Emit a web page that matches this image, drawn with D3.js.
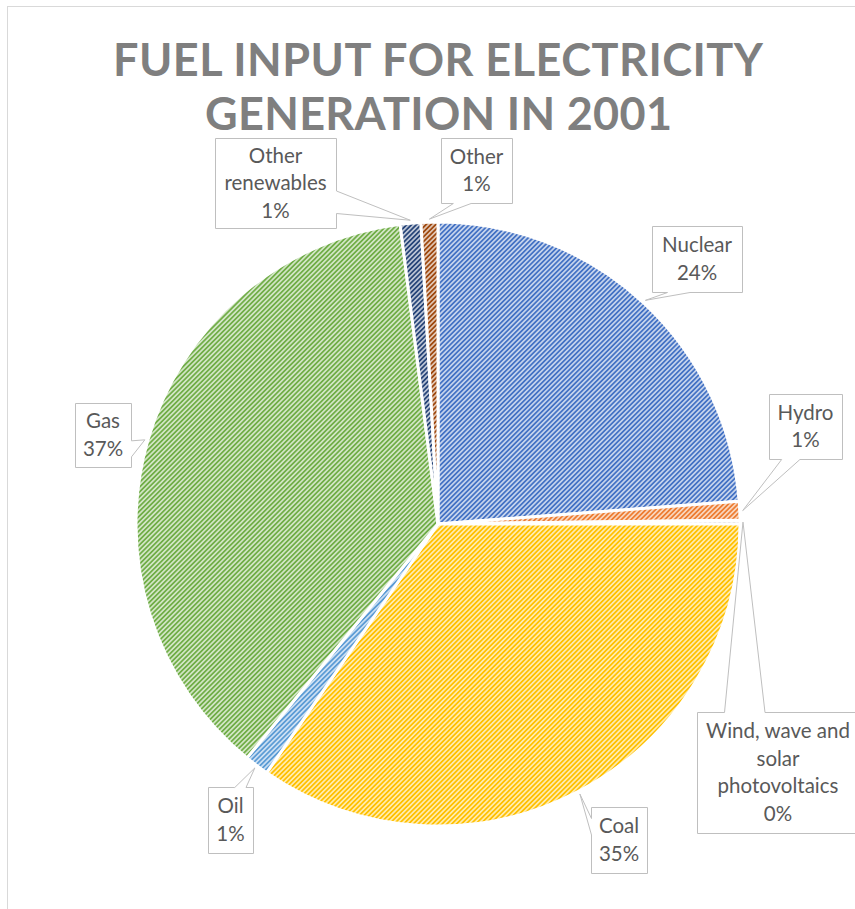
<!DOCTYPE html>
<html>
<head>
<meta charset="utf-8">
<script src="https://cdn.jsdelivr.net/npm/d3@7"></script>
<style>
  html, body { margin: 0; padding: 0; background: #fff; }
  svg { display: block; }
</style>
</head>
<body>
<svg id="chart" width="855" height="909"></svg>
<script>
// Share of fuel input for electricity generation, 2001 (percent)
const categories = ["Nuclear", "Hydro", "Wind, wave and solar photovoltaics", "Coal", "Oil", "Gas", "Other renewables", "Other"];
const shares = [23.8, 1.0, 0.2, 34.6, 1.3, 37.1, 1.1, 0.9];
const sliceColors = ["#4472C4", "#ED7D31", "#A5A5A5", "#FFC000", "#5B9BD5", "#70AD47", "#264478", "#9E480E"];
const titleLines = ["FUEL INPUT FOR ELECTRICITY", "GENERATION IN 2001"];

// How each category name is broken into lines inside its callout
const labelLines = [
  ["Nuclear"], ["Hydro"], ["Wind, wave and", "solar", "photovoltaics"],
  ["Coal"], ["Oil"], ["Gas"], ["Other", "renewables"], ["Other"]
];

// Callout boxes: [x, y, width, height]
const calloutBoxes = [
  [652, 226, 90, 66],
  [769, 394, 73, 65],
  [697, 712, 162, 121],
  [591, 807, 56, 66],
  [208, 787, 45, 66],
  [75, 403, 56, 64],
  [215, 138, 121, 90],
  [441, 138, 71, 65]
];

const svg = d3.select("#chart");
const W = 855, H = 909;
const cx = 438, cy = 524, R = 302;

// chart frame
svg.append("rect")
  .attr("x", 7.5).attr("y", 6.5)
  .attr("width", W + 10).attr("height", H + 10)
  .attr("fill", "#fff").attr("stroke", "#D9D9D9").attr("stroke-width", 1);

// diagonal hatch fills
const defs = svg.append("defs");
sliceColors.forEach((c, i) => {
  const p = defs.append("pattern")
    .attr("id", "hatch" + i)
    .attr("patternUnits", "userSpaceOnUse")
    .attr("width", 3.4).attr("height", 3.4)
    .attr("patternTransform", "rotate(45)");
  p.append("rect").attr("width", 3.4).attr("height", 3.4)
    .attr("fill", d3.interpolateRgb(c, "#fff")(0.68));
  p.append("rect").attr("width", 1.7).attr("height", 3.4).attr("fill", c);
});

// title
const title = svg.append("g").attr("fill", "#7F7F7F")
  .style("font-family", "Lato, 'Open Sans', sans-serif")
  .style("font-weight", 700)
  .style("font-size", "45px");
title.append("text").attr("x", 113).attr("y", 76)
  .attr("textLength", 650).attr("lengthAdjust", "spacing")
  .text(titleLines[0]);
title.append("text").attr("x", 205).attr("y", 130)
  .attr("textLength", 467).attr("lengthAdjust", "spacing")
  .text(titleLines[1]);

// pie
const data = categories.map((name, i) => ({ name, value: shares[i], i }));
const total = d3.sum(shares);
const pie = d3.pie().value(d => d.value).sort(null)
  .startAngle(0).endAngle(2 * Math.PI);
const arcs = pie(data);
const arc = d3.arc().innerRadius(0).outerRadius(R);

const g = svg.append("g").attr("transform", `translate(${cx},${cy})`);
g.selectAll("path.slice")
  .data(arcs)
  .join("path")
  .attr("class", "slice")
  .attr("d", arc)
  .attr("fill", d => `url(#hatch${d.data.i})`)
  .attr("stroke", "#fff")
  .attr("stroke-width", 3)
  .attr("stroke-linejoin", "round");

// callout with a wedge tail pointing at (tx, ty)
function calloutPath(x, y, w, h, tx, ty) {
  const mx = x + w / 2, my = y + h / 2;
  const dx = (tx - mx) / w, dy = (ty - my) / h;
  const r = x + w, b = y + h;
  let pts;
  if (Math.abs(dx) > Math.abs(dy)) {
    // tail on left or right side
    const lo = dy < 0 ? y + h * 2 / 12 : y + h * 7 / 12;
    const hi = dy < 0 ? y + h * 5 / 12 : y + h * 10 / 12;
    if (dx > 0) {
      pts = [[x, y], [r, y], [r, lo], [tx, ty], [r, hi], [r, b], [x, b]];
    } else {
      pts = [[x, y], [r, y], [r, b], [x, b], [x, hi], [tx, ty], [x, lo]];
    }
  } else {
    const lo = dx < 0 ? x + w * 2 / 12 : x + w * 7 / 12;
    const hi = dx < 0 ? x + w * 5 / 12 : x + w * 10 / 12;
    if (dy > 0) {
      pts = [[x, y], [r, y], [r, b], [hi, b], [tx, ty], [lo, b], [x, b]];
    } else {
      pts = [[x, y], [lo, y], [tx, ty], [hi, y], [r, y], [r, b], [x, b]];
    }
  }
  return "M" + pts.map(p => p.join(",")).join("L") + "Z";
}

const fmt = d3.format(".0%");
const labels = svg.append("g")
  .style("font-family", "Lato, 'Open Sans', sans-serif")
  .style("font-size", "20.5px");

arcs.forEach((a, k) => {
  const [bx, by, bw, bh] = calloutBoxes[k];
  const mid = (a.startAngle + a.endAngle) / 2;
  const tr = R + 3;
  const tx = cx + tr * Math.sin(mid);
  const ty = cy - tr * Math.cos(mid);
  labels.append("path")
    .attr("d", calloutPath(bx + 0.5, by + 0.5, bw, bh, tx, ty))
    .attr("fill", "#fff")
    .attr("stroke", "#BFBFBF")
    .attr("stroke-width", 1);
  const lines = labelLines[k].concat([fmt(a.data.value / total)]);
  const lh = 27.5;
  const y0 = by + bh / 2 - (lines.length - 1) * lh / 2;
  const t = labels.append("text")
    .attr("fill", "#595959")
    .attr("text-anchor", "middle");
  lines.forEach((ln, j) => {
    t.append("tspan")
      .attr("x", bx + bw / 2)
      .attr("y", y0 + j * lh)
      .attr("dy", "0.35em")
      .text(ln);
  });
});
</script>
</body>
</html>
